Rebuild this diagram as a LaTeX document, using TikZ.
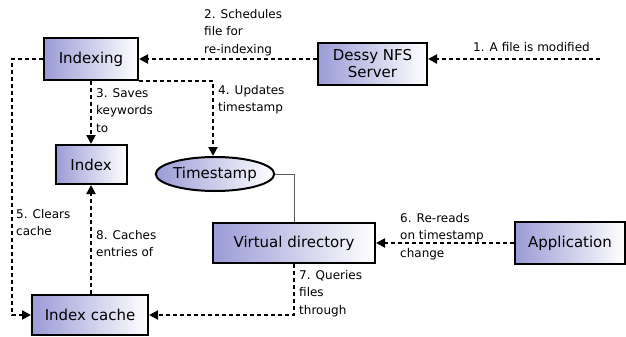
\documentclass[tikz,border=0pt]{standalone}
\usepackage{fontspec}
\setmainfont{DejaVu Sans}
\usetikzlibrary{shapes.geometric,arrows.meta,shadings}
\definecolor{boxleft}{RGB}{155,155,215}
\definecolor{linkgray}{RGB}{90,90,90}
\tikzset{
  boxnode/.style={draw=black, line width=2pt, left color=boxleft, right color=white,
    inner sep=0pt, align=center, font=\fontsize{15}{17}\selectfont},
  ovalnode/.style={ellipse, draw=black, line width=2pt, left color=boxleft, right color=white,
    inner sep=0pt, font=\fontsize{15}{17}\selectfont},
  flow/.style={line width=2pt, dash pattern=on 4pt off 3pt, -{Triangle[length=9pt,width=9pt]}},
  flowlabel/.style={anchor=base west, align=left, inner sep=0pt,
    font=\fontsize{12}{17.5}\selectfont},
}
\begin{document}
\begin{tikzpicture}[x=1pt,y=-1pt]
\useasboundingbox (0,0) rectangle (626,337);
% nodes
\node[boxnode, minimum width=94pt, minimum height=41pt] (indexing) at (91,59) {Indexing};
\node[boxnode, minimum width=109pt, minimum height=42pt] (nfs) at (372.5,64) {Dessy NFS\\Server};
\node[boxnode, minimum width=71pt, minimum height=39pt] (index) at (91,164.5) {Index};
\node[ovalnode, minimum width=116pt, minimum height=34pt] (timestamp) at (215,174) {Timestamp};
\node[boxnode, minimum width=162pt, minimum height=40pt] (vdir) at (294,243) {Virtual directory};
\node[boxnode, minimum width=110pt, minimum height=42pt] (app) at (570,243) {Application};
\node[boxnode, minimum width=116pt, minimum height=40pt] (cache) at (90,315) {Index cache};
% helper coordinates
\coordinate (src) at (600,59);
\coordinate (leftrail) at (12,0);
\coordinate (tsdrop) at (213,0);
% connectors
\draw[flow] (src) -- (src -| nfs.east);
\draw[flow] (nfs.west |- indexing.east) -- (indexing.east);
\draw[flow] (indexing.south) -- (index.north);
\draw[flow] (indexing.south east) -- (indexing.south east -| tsdrop) -- (timestamp.north -| tsdrop);
\draw[flow] (indexing.west) -- (indexing.west -| leftrail) |- (cache.west);
\draw[flow] (app.west) -- (vdir.east);
\draw[flow] (vdir.south) |- (cache.east);
\draw[flow] (cache.north -| index.south) -- (index.south);
\draw[linkgray, line width=1pt] (timestamp.east) -| (vdir.north);
% labels (anchored at the baseline of the last line)
\node[flowlabel] (l1) at (473,52) {1. A file is modified};
\node[flowlabel] (l2) at (204,53) {2. Schedules\\file for\\re-indexing};
\node[flowlabel] (l3) at (96,132) {3. Saves\\keywords\\to};
\node[flowlabel] (l4) at (218,111.5) {4. Updates\\timestamp};
\node[flowlabel] (l5) at (16,235.5) {5. Clears\\cache};
\node[flowlabel] (l6) at (400,257) {6. Re-reads\\on timestamp\\change};
\node[flowlabel] (l7) at (299,314) {7. Queries\\files\\through};
\node[flowlabel] (l8) at (96,256.5) {8. Caches\\entries of};
\end{tikzpicture}
\end{document}
